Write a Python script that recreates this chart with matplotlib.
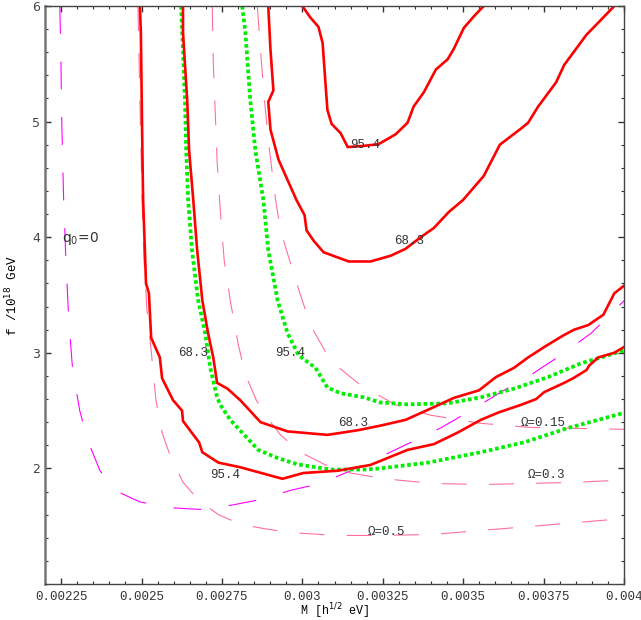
"""
plot.py

Confidence contours in the (M, f) plane with Omega and q0 iso-lines.
"""

import matplotlib
matplotlib.use("Agg")
import matplotlib.pyplot as plt
from matplotlib.ticker import MultipleLocator

# q0 = 0 line (magenta)
q0_x = [0.002246, 0.002249, 0.002252, 0.002258, 0.002265, 0.002274, 0.002286,
        0.002308, 0.002333, 0.002371, 0.002417, 0.002495, 0.002589, 0.002682,
        0.002776, 0.002869, 0.002963, 0.003057, 0.003150, 0.003243, 0.003337,
        0.003430, 0.003524, 0.003617, 0.003711, 0.003804, 0.003898, 0.004000]
q0_y = [6.00, 5.62, 5.01, 4.32, 3.80, 3.28, 2.85, 2.50, 2.24, 1.98, 1.81, 1.71,
        1.66, 1.645, 1.68, 1.73, 1.81, 1.87, 1.98, 2.10, 2.225, 2.35, 2.50,
        2.66, 2.81, 2.98, 3.17, 3.45]

# Omega iso-lines (pink)
om05_x = [0.002489, 0.002495, 0.002502, 0.002508, 0.002517, 0.002530, 0.002545,
          0.002564, 0.002589, 0.002629, 0.002679, 0.002739, 0.002810, 0.002879,
          0.002957, 0.003106, 0.003243, 0.003406, 0.003555, 0.003708, 0.003855,
          0.004000]
om05_y = [6.00, 5.19, 4.32, 3.80, 3.37, 3.02, 2.59, 2.31, 2.11, 1.88, 1.72, 1.60,
          1.515, 1.48, 1.446, 1.42, 1.42, 1.429, 1.463, 1.498, 1.532, 1.567]

om03_x = [0.002720, 0.002723, 0.002729, 0.002735, 0.002745, 0.002757, 0.002776,
          0.002801, 0.002823, 0.002857, 0.002885, 0.002932, 0.002994, 0.003072,
          0.003150, 0.003256, 0.003406, 0.003555, 0.003705, 0.003852, 0.004000]
om03_y = [6.00, 5.53, 5.10, 4.66, 4.23, 3.80, 3.45, 3.07, 2.81, 2.59, 2.46, 2.29,
          2.14, 2.03, 1.96, 1.91, 1.87, 1.86, 1.87, 1.88, 1.90]

om015_x = [0.002860, 0.002870, 0.002882, 0.002898, 0.002917, 0.002932, 0.002979,
           0.003025, 0.003088, 0.003181, 0.003290, 0.003399, 0.003555, 0.003705,
           0.003848, 0.004000]
om015_y = [6.00, 5.62, 5.19, 4.75, 4.32, 4.06, 3.63, 3.24, 2.93, 2.72, 2.55, 2.46,
           2.39, 2.355, 2.346, 2.338]

# red contours
red954_x = [0.002495, 0.002498, 0.002502, 0.002505, 0.002508, 0.002514, 0.002523,
            0.002530, 0.002557, 0.002564, 0.002598, 0.002626, 0.002629, 0.002679,
            0.002689, 0.002739, 0.002807, 0.002938, 0.003003, 0.003110, 0.003212,
            0.003327, 0.003409, 0.003483, 0.003555, 0.003611, 0.003680, 0.003727,
            0.003752, 0.003814, 0.003842, 0.003883, 0.003892, 0.003920, 0.003970,
            0.004000]
red954_y = [6.00, 5.77, 4.90, 4.32, 4.09, 3.60, 3.515, 3.13, 2.96, 2.78, 2.59,
            2.50, 2.41, 2.225, 2.14, 2.05, 2.01, 1.91, 1.96, 1.98, 2.03, 2.16,
            2.21, 2.31, 2.42, 2.485, 2.55, 2.60, 2.66, 2.74, 2.78, 2.85, 2.89,
            2.96, 3.00, 3.05]

red683_x = [0.002629, 0.002629, 0.002642, 0.002648, 0.002661, 0.002673, 0.002689,
            0.002707, 0.002723, 0.002735, 0.002767, 0.002807, 0.002870, 0.002954,
            0.003078, 0.003172, 0.003243, 0.003321, 0.003409, 0.003471, 0.003549,
            0.003602, 0.003658, 0.003702, 0.003752, 0.003811, 0.003845, 0.003889,
            0.003936, 0.003970, 0.004000]
red683_y = [6.00, 5.77, 5.19, 4.75, 4.32, 3.89, 3.455, 3.17, 2.96, 2.74, 2.69,
            2.59, 2.40, 2.32, 2.29, 2.33, 2.37, 2.42, 2.53, 2.61, 2.675, 2.79,
            2.87, 2.96, 3.05, 3.15, 3.20, 3.24, 3.33, 3.515, 3.58]

red683u_x = [0.002894, 0.002901, 0.002910, 0.002894, 0.002901, 0.002926, 0.002982,
             0.003007, 0.003013, 0.003035, 0.003066, 0.003144, 0.003212, 0.003275,
             0.003321, 0.003368, 0.003409, 0.003456, 0.003499, 0.003564, 0.003614,
             0.003680, 0.003702, 0.003733, 0.003789, 0.003814, 0.003883, 0.003970]
red683u_y = [6.00, 5.62, 5.27, 5.17, 4.93, 4.67, 4.32, 4.19, 4.06, 3.97, 3.87,
             3.79, 3.79, 3.84, 3.90, 4.00, 4.08, 4.22, 4.32, 4.53, 4.80, 4.94,
             4.99, 5.13, 5.34, 5.49, 5.75, 6.00]

red954u_x = [0.003000, 0.003025, 0.003050, 0.003063, 0.003072, 0.003078, 0.003091,
             0.003119, 0.003141, 0.003191, 0.003237, 0.003290, 0.003327, 0.003346,
             0.003378, 0.003415, 0.003452, 0.003471, 0.003502, 0.003533, 0.003564]
red954u_y = [6.00, 5.90, 5.82, 5.68, 5.33, 5.10, 4.98, 4.90, 4.78, 4.79, 4.805,
             4.89, 4.99, 5.13, 5.255, 5.45, 5.54, 5.63, 5.81, 5.91, 6.00]

# green dotted contours
grn683_x = [0.002623, 0.002629, 0.002635, 0.002639, 0.002645, 0.002657, 0.002676,
            0.002698, 0.002714, 0.002735, 0.002745, 0.002776, 0.002816, 0.002863,
            0.002923, 0.002985, 0.003088, 0.003191, 0.003243, 0.003390, 0.003555,
            0.003689, 0.003827, 0.004000]
grn683_y = [6.00, 5.62, 5.19, 4.75, 4.32, 3.89, 3.455, 3.17, 2.87, 2.615, 2.55,
            2.42, 2.30, 2.16, 2.09, 2.035, 1.99, 1.99, 2.00, 2.05, 2.14, 2.225,
            2.35, 2.48]

grn954_x = [0.002813, 0.002823, 0.002838, 0.002854, 0.002879, 0.002894, 0.002923,
            0.002954, 0.002988, 0.003041, 0.003078, 0.003119, 0.003191, 0.003243,
            0.003327, 0.003452, 0.003555, 0.003658, 0.003764, 0.003867, 0.003929,
            0.004000]
grn954_y = [6.00, 5.77, 5.19, 4.75, 4.32, 3.89, 3.455, 3.17, 2.98, 2.87, 2.70,
            2.65, 2.615, 2.57, 2.554, 2.563, 2.615, 2.69, 2.79, 2.91, 2.96, 3.02]

x_ticks = [0.00225, 0.0025, 0.00275, 0.003, 0.00325, 0.0035, 0.00375, 0.004]
x_tick_labels = ["0.00225", "0.0025", "0.00275", "0.003", "0.00325", "0.0035",
                 "0.00375", "0.004"]
y_ticks = [2, 3, 4, 5, 6]

PINK = "#ff6f9a"
MAGENTA = "#ff00ff"
RED = "#ff0000"
GREEN = "#00ee00"
MONO = "Liberation Mono"

plt.rcParams["lines.scale_dashes"] = False

fig = plt.figure(figsize=(6.41, 6.20), dpi=100)
ax = fig.add_axes([45 / 641, 1 - 584 / 620, 579 / 641, 578 / 620])

ax.plot(q0_x, q0_y, color=MAGENTA, lw=0.8, dashes=(20, 20))
for xs, ys in ((om05_x, om05_y), (om03_x, om03_y), (om015_x, om015_y)):
    ax.plot(xs, ys, color=PINK, lw=0.8, dashes=(18, 16))

for xs, ys in ((grn683_x, grn683_y), (grn954_x, grn954_y)):
    ax.plot(xs, ys, color=GREEN, lw=2.7, dashes=(2.6, 2.0),
            solid_capstyle="butt", dash_capstyle="butt")

for xs, ys in ((red954_x, red954_y), (red683_x, red683_y),
               (red683u_x, red683u_y), (red954u_x, red954u_y)):
    ax.plot(xs, ys, color=RED, lw=1.9, solid_joinstyle="miter")

lab = dict(family=MONO, fontsize=9, color="#333333", ha="center", va="center")
ax.text(0.003194, 4.80, "95.4", **lab)
ax.text(0.003331, 3.97, "68.3", **lab)
ax.text(0.002661, 3.00, "68.3", **lab)
ax.text(0.002963, 3.00, "95.4", **lab)
ax.text(0.003159, 2.39, "68.3", **lab)
ax.text(0.002760, 1.94, "95.4", **lab)
ax.text(0.003749, 2.39, "Ω=0.15", **lab)
ax.text(0.003758, 1.94, "Ω=0.3", **lab)
ax.text(0.003262, 1.45, "Ω=0.5", **lab)
ax.text(0.002252, 3.99, "q$_0$=0", family="DejaVu Sans", fontsize=10,
        color="#333333", ha="left", va="center")

ax.set_xlim(0.0022, 0.004)
ax.set_ylim(1.0, 6.0)
ax.set_xticks(x_ticks)
ax.set_xticklabels(x_tick_labels, family=MONO, fontsize=9)
ax.set_yticks(y_ticks)
ax.set_yticklabels([str(v) for v in y_ticks], family="DejaVu Sans", fontsize=9,
                   color="#444444")
ax.xaxis.set_minor_locator(MultipleLocator(0.00005))
ax.yaxis.set_minor_locator(MultipleLocator(0.2))
ax.tick_params(which="both", direction="in", top=True, right=True,
               colors="#333333")
ax.tick_params(axis="y", which="both", labelcolor="#444444")
ax.tick_params(axis="x", which="major", pad=5)
ax.tick_params(which="major", length=4, width=1.0)
ax.tick_params(which="minor", length=2.5, width=0.8)

for side in ("top", "right", "bottom"):
    ax.spines[side].set_color("#444444")
    ax.spines[side].set_linewidth(1.0)
ax.spines["left"].set_color("#777777")
ax.spines["left"].set_linewidth(1.8)

ax.set_xlabel("M [h$^{1/2}$ eV]", family=MONO, fontsize=8.5)
ax.xaxis.set_label_coords(0.5, -0.030)
ax.xaxis.label.set_verticalalignment("top")
ax.set_ylabel("f /10$^{18}$ GeV", family=MONO, fontsize=9)
ax.yaxis.set_label_coords(-0.043, 0.5)

fig.savefig("out.png", dpi=100)
